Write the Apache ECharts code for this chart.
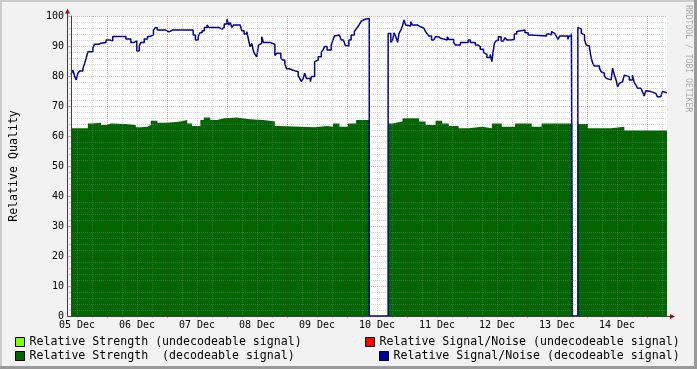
<!DOCTYPE html>
<html><head><meta charset="utf-8">
<script src="https://cdn.jsdelivr.net/npm/echarts@6/dist/echarts.min.js"></script>
<style>html,body{margin:0;padding:0;background:#f2f2f2}#c{width:697px;height:369px}</style>
</head><body><div id="c"></div>
<script>
// ---- data (time in hours from left edge of graph, value in %) ----
const dayLabels = ['05 Dec','06 Dec','07 Dec','08 Dec','09 Dec','10 Dec','11 Dec','12 Dec','13 Dec','14 Dec'];
const strengthUndecodeable = [];
const signalNoiseUndecodeable = [];
const strengthDecodeable = [[0,62.6],[6.8,64.2],[8.1,64.4],[12.1,63.7],[14.1,64.2],[16.1,64],[22.1,63.7],[26.1,62.9],[28.1,63.1],[30.8,63.7],[32.1,65.1],[34.8,64.4],[38.8,64.8],[44.1,65.3],[46.8,64.2],[48.8,63.3],[52.1,65.3],[53.5,66.2],[56.1,65.3],[58.8,65.9],[61.5,66.2],[66.8,65.6],[72.1,65.3],[77.5,64.8],[82.1,63.3],[84.1,62.9],[98.1,63.3],[102.8,63.1],[105.5,64.2],[108.1,63.1],[111.5,64.2],[114.8,65.3],[120.1,0],[127.7,64.2],[129.5,64.8],[133.5,65.9],[140.1,64.8],[142.8,63.7],[146.8,65.1],[149.5,64.2],[152.1,63.3],[156.1,62.6],[160.1,63.1],[165.5,62.6],[169.5,64.2],[173.5,63.1],[178.8,64.2],[185.5,63.1],[189.5,64.2],[201.9,0],[204.1,64],[208.1,62.6],[217.5,63.1],[222.8,61.8],[240,61.8]];
const signalNoiseDecodeable = [[0,80.5],[0.8,82],[1.5,79.8],[2.1,78.7],[2.8,81],[3.5,81.7],[4.8,82.6],[5.5,84.2],[6.1,85.9],[6.8,88.1],[8.8,89.4],[9.5,90.6],[11.1,90.9],[12.1,91.2],[14.1,92],[15.5,91.7],[16.8,93.2],[22.1,92.3],[24.1,91.2],[25.5,91.7],[26.5,88.3],[27.5,90],[28.1,91.2],[29.5,92.3],[30.8,93.2],[31.9,93.7],[33.2,95.3],[33.9,96.1],[34.8,95.3],[38.1,94.7],[39.5,95.3],[40.8,94.7],[41.5,95.3],[49.2,93.7],[50.1,92],[51.2,93.1],[51.9,94.4],[52.8,95.1],[53.7,96.2],[54.8,97],[55.5,96.2],[59.5,95.6],[60.8,96.2],[61.7,97.3],[62.8,98.9],[63.5,97],[64.1,97.8],[64.8,96.2],[65.5,97],[68.1,97.3],[68.8,95.1],[69.7,94],[70.8,94.8],[71.5,92],[72.1,89.8],[72.8,90.9],[73.5,88.1],[74.1,87.2],[74.8,86.4],[75.5,90.3],[76.1,90.9],[76.8,93.1],[77.5,91.2],[80.1,90.6],[82.1,86.8],[82.8,87.6],[84.5,86.1],[85.2,85.3],[86.1,84.2],[86.8,82.4],[87.9,82],[89.2,81.4],[91.5,80.1],[92.1,79.2],[92.8,78.1],[93.5,79.2],[94.1,80.9],[94.8,79.2],[96.4,78.1],[96.8,79.8],[98.1,84.8],[98.8,85.3],[99.5,86.4],[100.8,87.9],[101.5,88.7],[102.1,89.8],[103.1,88.7],[104.8,90.3],[105.5,92],[106.1,93.3],[106.8,93.7],[108.1,93.1],[108.8,92],[109.7,91.4],[110.5,90.1],[111.9,92],[112.8,93.7],[114.1,94.8],[114.8,95.7],[115.5,96.4],[116.1,97.2],[116.9,98.3],[117.7,98.9],[118.4,99.2],[120.1,0],[127.7,94.2],[128.8,91.2],[129.5,92],[130.1,94.4],[130.8,93.1],[131.5,91.2],[132.1,94.2],[132.8,95.3],[133.5,96.7],[134.1,98.7],[134.8,97],[135.5,96.7],[136.8,98.1],[137.5,97],[139.5,96.4],[140.8,95.9],[142.1,95.3],[142.8,94.8],[143.5,94],[144.1,93.3],[145.2,92],[146.1,91.7],[146.8,93.1],[147.9,92.6],[148.8,92.3],[150.1,92],[151.5,93.1],[152.1,92.2],[154.1,91.2],[154.8,90.3],[156.8,91.2],[159.9,92],[160.8,91.2],[162.8,90.3],[163.9,89.8],[164.8,88.9],[166.1,87.8],[166.8,87.2],[167.5,86.2],[168.8,87.2],[169.5,84.8],[169.9,87.6],[170.5,90.9],[171.2,91.8],[172.1,93.1],[173.2,91.7],[174.1,92],[174.8,92.8],[175.5,92],[177.2,91.4],[177.7,92.2],[178.5,94],[179.5,94.8],[180.1,95.3],[182.8,94.4],[184.1,93.7],[185.2,93.3],[191.5,94],[192.4,93.7],[193.5,94.8],[194.1,94.2],[194.8,94.8],[195.5,93.1],[196.1,92.2],[196.8,93.3],[200.1,92.2],[200.5,93.3],[201.5,94.2],[201.9,0],[204.1,96.2],[204.8,95.6],[205.5,94.2],[206.1,93.7],[206.8,92],[207.5,90.3],[208.1,90],[208.8,89.2],[209.5,85.9],[210.1,84.2],[210.8,83.3],[212.8,82.6],[213.5,81.4],[214.1,80.9],[214.8,80],[215.5,79.2],[216.1,78.7],[217.5,78.1],[218.1,82.6],[218.8,80.3],[219.5,78.7],[220.1,76.4],[220.8,77.6],[221.5,78.1],[222.1,78.7],[222.8,80.3],[223.5,79.8],[224.8,78.7],[226.1,80.3],[226.8,77.8],[227.5,77],[228.1,75.9],[229.5,75.3],[230.1,74.8],[230.8,73.3],[231.5,75.1],[232.1,74.8],[233.5,74.2],[235.5,73.7],[236.1,73.1],[237.5,73.7],[238.1,74.8],[238.8,74.4],[240,74.4]];

// ---- style ----
const MONO = "'DejaVu Sans Mono', monospace";
const AXIS = '#404040';
const GRID_MINOR = 'rgba(140,140,140,0.32)';
const GRID_MAJOR = 'rgba(130,30,30,0.32)';
const GREEN = '#006600', BLUE = '#000099', LIME = '#80ff00', RED = '#ff0000';
const ARROW = '#9a1010';

function gridAxis(gi, color, labels) {
  return {
    gridIndex: gi, type: 'value', min: 0, max: 216, interval: 24, z: 3,
    axisLine: {show: false},
    axisTick: {show: true, length: 2, lineStyle: {color: color}},
    axisLabel: {show: !!labels, margin: 4, fontFamily: MONO, fontSize: 10, color: '#000',
      formatter: v => dayLabels[Math.round(v / 24)] || ''},
    splitLine: {show: true, lineStyle: {color: color, type: [1, 1], width: 1}}
  };
}
const gb = {top: 16, bottom: 53};
const legendCommon = {orient: 'horizontal', padding: 0, itemWidth: 9, itemHeight: 9, icon: 'rect', selectedMode: false,
  itemStyle: {borderColor: '#000', borderWidth: 1}, textStyle: {fontFamily: MONO, fontSize: 11.6, color: '#000'}};

const chart = echarts.init(document.getElementById('c'), null, {renderer: 'canvas'});
chart.setOption({
  animation: false,
  backgroundColor: '#f2f2f2',
  grid: [
    Object.assign({left: 67, right: 30, show: true, backgroundColor: '#fff', borderWidth: 0}, gb),
    Object.assign({left: 77, width: 540}, gb),
    Object.assign({left: 92, width: 540}, gb),
    Object.assign({left: 122, width: 540}, gb),
    Object.assign({left: 107, width: 540}, gb)
  ],
  xAxis: [
    {gridIndex: 0, type: 'value', min: 0, max: 240, z: 4,
     axisLine: {show: true, lineStyle: {color: AXIS, width: 1}}, axisTick: {show: false},
     axisLabel: {show: false}, splitLine: {show: false}},
    gridAxis(1, GRID_MINOR, true),
    gridAxis(2, GRID_MINOR, false),
    gridAxis(3, GRID_MINOR, false),
    gridAxis(4, GRID_MAJOR, false)
  ],
  yAxis: [
    {gridIndex: 0, type: 'value', min: 0, max: 100, interval: 10, z: 3,
     name: 'Relative Quality', nameLocation: 'middle', nameGap: 51,
     nameTextStyle: {fontFamily: MONO, fontSize: 11.6, color: '#000'},
     axisLine: {show: true, lineStyle: {color: AXIS}},
     axisTick: {show: true, length: 3, lineStyle: {color: GRID_MAJOR}},
     minorTick: {show: true, splitNumber: 5, length: 2, lineStyle: {color: GRID_MINOR}},
     axisLabel: {margin: 7, fontFamily: MONO, fontSize: 10, color: '#000'},
     splitLine: {show: true, lineStyle: {color: GRID_MAJOR, type: [1, 1], width: 1}},
     minorSplitLine: {show: true, lineStyle: {color: GRID_MINOR, type: [1, 1], width: 1}}},
    {gridIndex: 1, type: 'value', show: false},
    {gridIndex: 2, type: 'value', show: false},
    {gridIndex: 3, type: 'value', show: false},
    {gridIndex: 4, type: 'value', show: false}
  ],
  legend: [
    Object.assign({data: ['Relative Strength (undecodeable signal)'], left: 15, top: 336}, legendCommon),
    Object.assign({data: ['Relative Strength  (decodeable signal)'], left: 15, top: 350}, legendCommon),
    Object.assign({data: ['Relative Signal/Noise (undecodeable signal)'], left: 365, top: 336}, legendCommon),
    Object.assign({data: ['Relative Signal/Noise (decodeable signal)'], left: 379, top: 350}, legendCommon)
  ],
  series: [
    {name: 'Relative Strength (undecodeable signal)', type: 'line', data: strengthUndecodeable, color: LIME,
     lineStyle: {color: LIME}, symbol: 'none'},
    {name: 'Relative Signal/Noise (undecodeable signal)', type: 'line', data: signalNoiseUndecodeable, color: RED,
     lineStyle: {color: RED}, symbol: 'none'},
    {name: 'Relative Strength  (decodeable signal)', type: 'line', step: 'end', data: strengthDecodeable,
     color: GREEN, symbol: 'none', lineStyle: {width: 0, color: GREEN}, areaStyle: {color: GREEN, opacity: 1}, z: 2},
    {name: 'Relative Signal/Noise (decodeable signal)', type: 'line', step: 'end', data: signalNoiseDecodeable,
     color: BLUE, symbol: 'none', lineStyle: {width: 1.5, color: BLUE}, z: 2}
  ],
  graphic: [
    {type: 'rect', silent: true, shape: {x: 0, y: 0, width: 697, height: 2}, style: {fill: '#cbcbcb'}},
    {type: 'rect', silent: true, shape: {x: 0, y: 0, width: 2, height: 369}, style: {fill: '#cbcbcb'}},
    {type: 'rect', silent: true, shape: {x: 0, y: 366, width: 697, height: 3}, style: {fill: '#999'}},
    {type: 'rect', silent: true, shape: {x: 694, y: 0, width: 3, height: 369}, style: {fill: '#999'}},
    {type: 'line', silent: true, z: 10, shape: {x1: 67.5, y1: 316.5, x2: 671, y2: 316.5}, style: {stroke: AXIS, lineWidth: 1}},
    {type: 'line', silent: true, z: 10, shape: {x1: 67.5, y1: 316.5, x2: 67.5, y2: 12}, style: {stroke: AXIS, lineWidth: 1}},
    {type: 'polygon', silent: true, z: 10, shape: {points: [[65, 13.5], [70, 13.5], [67.5, 8.5]]}, style: {fill: ARROW}},
    {type: 'polygon', silent: true, z: 10, shape: {points: [[670, 314], [670, 319], [675, 316.5]]}, style: {fill: ARROW}},
    {type: 'text', silent: true, x: 688, y: 5, rotation: -Math.PI / 2,
     style: {text: 'RRDTOOL / TOBI OETIKER', fontFamily: MONO, fontSize: 8.1, fill: '#aaaaaa',
             align: 'left', verticalAlign: 'middle'}}
  ]
});
</script></body></html>
